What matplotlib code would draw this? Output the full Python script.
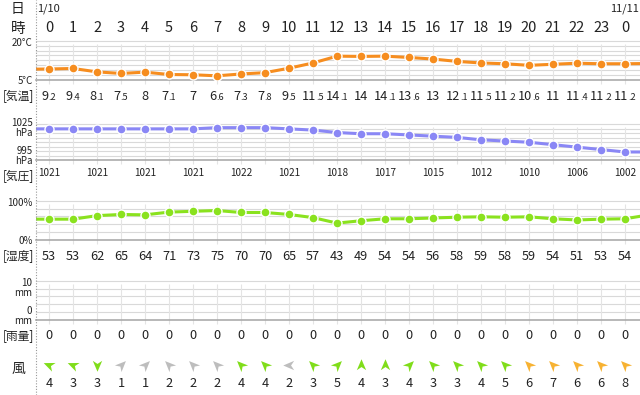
import numpy as np
import matplotlib
matplotlib.use("Agg")
import matplotlib.pyplot as plt
from matplotlib.path import Path
from matplotlib.markers import MarkerStyle
from matplotlib.transforms import Affine2D
from matplotlib.lines import Line2D

plt.rcParams['font.family'] = ['Noto Sans CJK JP', 'DejaVu Sans']

# ---- data ----
hours = list(range(25))
hour_labels = [str(h) for h in range(24)] + ['0']
day_start, day_end = '1/10', '11/11'

temp = [9.2, 9.4, 8.1, 7.5, 8, 7.1, 7, 6.6, 7.3, 7.8, 9.5, 11.5,
        14.1, 14, 14.1, 13.6, 13, 12.1, 11.5, 11.2, 10.6, 11, 11.4, 11.2, 11.2]
temp_edges = [9.1, 11.3]          # hour -1 and hour 25, cut by the frame

pressure = [1021, 1021, 1021, 1021, 1021, 1021, 1021, 1022, 1022, 1022, 1021, 1020,
            1018, 1017, 1017, 1016, 1015, 1014, 1012, 1011, 1010, 1008, 1006, 1004, 1002]
pressure_edges = [1021, 1002]

humidity = [53, 53, 62, 65, 64, 71, 73, 75, 70, 70, 65, 57,
            43, 49, 54, 54, 56, 58, 59, 58, 59, 54, 51, 53, 54]
humidity_edges = [53, 64]

rain = [0] * 25

wind_speed = [4, 3, 3, 1, 1, 2, 2, 2, 4, 4, 2, 3,
              5, 4, 3, 4, 3, 3, 4, 5, 6, 7, 6, 6, 8]
wind_dir = ['ESE', 'ESE', 'N', 'SW', 'SW', 'SE', 'SE', 'SE', 'SE', 'SE', 'E', 'SE',
            'SW', 'S', 'S', 'SW', 'SE', 'SE', 'SE', 'SE', 'SE', 'SE', 'SE', 'SE', 'SE']

# ---- layout helpers (pixels of a 640x395 picture) ----
W, H = 640, 395
X0, DX = 49, 24          # pixel of hour 0, pixels per hour
LEFT = 36


def hx(px):
    return (px - X0) / DX


def fy(py):
    return 1 - py / H


TXT = '#222222'
C_TEMP = '#f68d1f'
C_PRES = '#8a87f5'
C_HUM = '#8ae21e'

fig = plt.figure(figsize=(6.4, 3.95), dpi=100)
base = fig.add_axes([0, 0, 1, 1])
base.set_xlim(hx(0), hx(W))
base.set_ylim(H, 0)
base.axis('off')

# dotted separator on the left
fig.add_artist(Line2D([LEFT / W] * 2, [0, 1], transform=fig.transFigure,
                      color='#999999', lw=0.8, ls=(0, (1, 1.5))))


def panel(top, bottom, ylim, nlines):
    ax = fig.add_axes([LEFT / W, fy(bottom), (W - LEFT) / W, (bottom - top) / H])
    ax.set_xlim(hx(LEFT), hx(W))
    ax.set_ylim(*ylim)
    ax.axis('off')
    unit = (ylim[1] - ylim[0]) / (bottom - top)
    for y in np.linspace(ylim[0], ylim[1], nlines)[1:]:
        ax.axhline(y, color='#d9d9d9', lw=0.8, zorder=0, clip_on=False)
    ax.vlines(hours + [25], ylim[0] - 3.5 * unit, ylim[1] - 3 * unit,
              color='#e4e4e4', lw=0.8, zorder=0, clip_on=False)
    ax.axhline(ylim[0], color='#ababab', lw=1.2, zorder=1, clip_on=False)
    return ax


def series(ax, values, edges, color):
    ax.plot([-1] + hours + [25], [edges[0]] + values + [edges[1]],
            color=color, lw=2.2, zorder=3)
    ax.plot(hours, values, 'o', color=color, ms=6.5, mec='white', mew=1, zorder=4)


ax_t = panel(40.7, 80, (5, 20), 9)
series(ax_t, temp, temp_edges, C_TEMP)

ax_p = panel(124, 160.5, (995, 1025), 9)
series(ax_p, pressure, pressure_edges, C_PRES)

ax_h = panel(200.7, 240, (0, 100), 6)
series(ax_h, humidity, humidity_edges, C_HUM)

ax_r = panel(280.7, 320, (0, 10), 6)
ax_r.bar(hours, rain, width=0.6, color='#6fa8dc', zorder=2)

# ---- left-hand labels ----
lx = hx(18)
base.text(lx, 8.5, '日', fontsize=10, ha='center', va='center', color=TXT)
base.text(lx, 28.5, '時', fontsize=10.5, ha='center', va='center', color=TXT)
base.text(hx(32.5), 43.5, '20°C', fontsize=7, ha='right', va='center', color=TXT)
base.text(hx(32.5), 80.5, '5°C', fontsize=7, ha='right', va='center', color=TXT)
base.text(lx, 95.5, '[気温]', fontsize=8.5, ha='center', va='center', color=TXT)
base.text(hx(32.5), 123.5, '1025', fontsize=7, ha='right', va='center', color=TXT)
base.text(hx(32.5), 133.5, 'hPa', fontsize=7, ha='right', va='center', color=TXT)
base.text(hx(32.5), 150.5, '995', fontsize=7, ha='right', va='center', color=TXT)
base.text(hx(32.5), 160.5, 'hPa', fontsize=7, ha='right', va='center', color=TXT)
base.text(lx, 175.5, '[気圧]', fontsize=8.5, ha='center', va='center', color=TXT)
base.text(hx(32.5), 203.5, '100%', fontsize=7, ha='right', va='center', color=TXT)
base.text(hx(32.5), 241.5, '0%', fontsize=7, ha='right', va='center', color=TXT)
base.text(lx, 255.5, '[湿度]', fontsize=8.5, ha='center', va='center', color=TXT)
base.text(hx(32.5), 283.5, '10', fontsize=7, ha='right', va='center', color=TXT)
base.text(hx(32.5), 293.5, 'mm', fontsize=7, ha='right', va='center', color=TXT)
base.text(hx(32.5), 310.5, '0', fontsize=7, ha='right', va='center', color=TXT)
base.text(hx(32.5), 320.5, 'mm', fontsize=7, ha='right', va='center', color=TXT)
base.text(lx, 335.5, '[雨量]', fontsize=8.5, ha='center', va='center', color=TXT)
base.text(lx, 368.5, '風', fontsize=10, ha='center', va='center', color=TXT)

# ---- header rows ----
base.text(hx(37.5), 8.5, day_start, fontsize=8, ha='left', va='center', color=TXT)
base.text(hours[-1], 8.5, day_end, fontsize=8, ha='center', va='center', color=TXT)
for h, lab in zip(hours, hour_labels):
    base.text(h, 28.5, lab, fontsize=10.5, ha='center', va='center', color=TXT)

# ---- temperature numbers: integer part large, decimals small ----
renderer = fig.canvas.get_renderer()
for h, v in zip(hours, temp):
    s = f'{v:g}'
    big, small = (s.split('.')[0], '.' + s.split('.')[1]) if '.' in s else (s, '')
    tb = base.text(h, 99.8, big, fontsize=9.2, ha='left', va='baseline', color=TXT)
    ts = base.text(h, 99.8, small, fontsize=6.6, ha='left', va='baseline', color=TXT)
    wb = tb.get_window_extent(renderer).width
    ws = ts.get_window_extent(renderer).width if small else 0
    x_start = h - (wb + ws) / 2 / DX
    tb.set_x(x_start)
    ts.set_x(x_start + wb / DX)

for h in hours[::2]:
    base.text(h, 173, str(pressure[h]), fontsize=7.2, ha='center', va='center', color=TXT)

for h, v in zip(hours, humidity):
    base.text(h, 256, str(v), fontsize=9.2, ha='center', va='center', color=TXT)

for h, v in zip(hours, rain):
    base.text(h, 335.5, str(v), fontsize=9.2, ha='center', va='center', color=TXT)

# ---- wind ----
compass = {'N': 0, 'NNE': 22.5, 'NE': 45, 'ENE': 67.5, 'E': 90, 'ESE': 112.5,
           'SE': 135, 'SSE': 157.5, 'S': 180, 'SSW': 202.5, 'SW': 225,
           'WSW': 247.5, 'W': 270, 'WNW': 292.5, 'NW': 315, 'NNW': 337.5}
dart = Path([(1, 0), (-0.75, 0.75), (-0.25, 0), (-0.75, -0.75), (1, 0)],
            [Path.MOVETO, Path.LINETO, Path.LINETO, Path.LINETO, Path.CLOSEPOLY])


def wind_color(v):
    if v <= 2:
        return '#bdbdbd'
    if v <= 5:
        return '#80dd1a'
    return '#f7b232'


ax_w = fig.add_axes([LEFT / W, fy(375), (W - LEFT) / W, 20 / H])
ax_w.set_xlim(hx(LEFT), hx(W))
ax_w.set_ylim(-1, 1)
ax_w.axis('off')
for h, v, d in zip(hours, wind_speed, wind_dir):
    angle = 90 - (compass[d] + 180)   # arrow points where the wind goes
    m = MarkerStyle(dart, transform=Affine2D().rotate_deg(angle))
    ax_w.plot(h, 0, marker=m, ms=9, color=wind_color(v), mec='none')
    base.text(h, 383.5, str(v), fontsize=9.2, ha='center', va='center', color=TXT)

fig.savefig('out.png', dpi=100)
